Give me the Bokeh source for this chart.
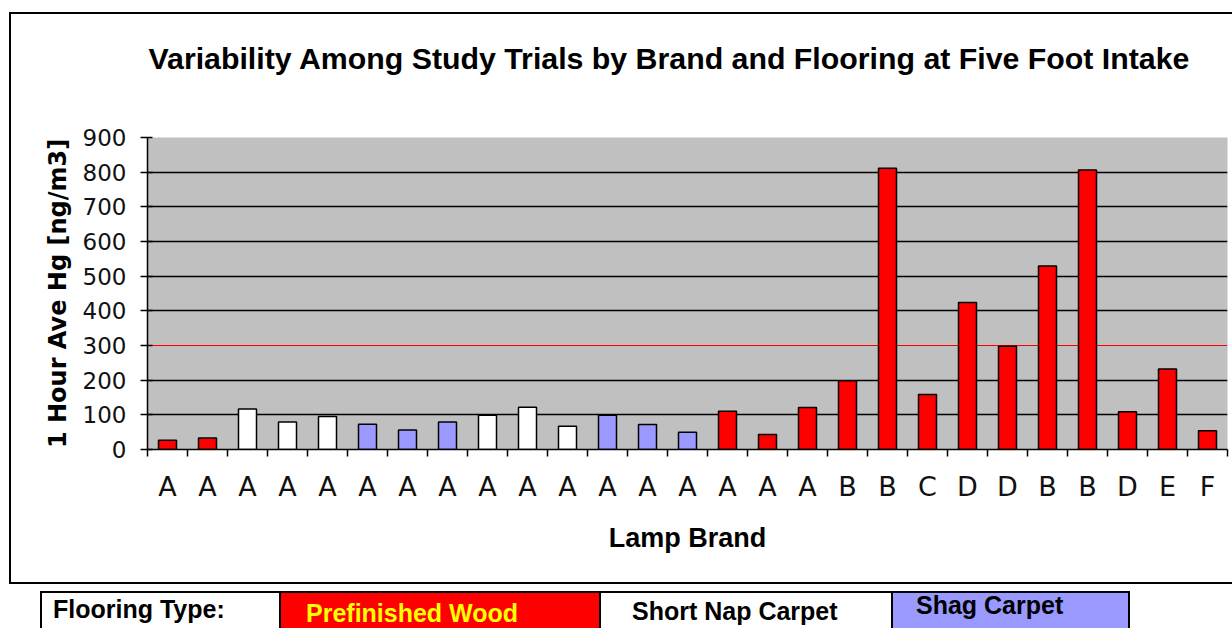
from bokeh.plotting import figure
from bokeh.layouts import column
from bokeh.models import ColumnDataSource, Range1d, FixedTicker, Span, Div
from bokeh.embed import file_html
from bokeh.resources import INLINE

# ---------------- data ----------------
brands = ["A"] * 17 + ["B", "B", "C", "D", "D", "B", "B", "D", "E", "F"]
flooring = (["Prefinished Wood"] * 2
            + ["Short Nap Carpet"] * 3
            + ["Shag Carpet"] * 3
            + ["Short Nap Carpet"] * 3
            + ["Shag Carpet"] * 3
            + ["Prefinished Wood"] * 13)
values = [27, 33, 117, 79, 95, 73, 56, 79, 99, 122, 67, 99, 72, 50,
          110, 43, 121, 198, 811, 159, 424, 298, 529, 806, 109, 232, 54]
y_ticks = [0, 100, 200, 300, 400, 500, 600, 700, 800, 900]
reference_level = 300
floor_types = ["Prefinished Wood", "Short Nap Carpet", "Shag Carpet"]
floor_colors = {"Prefinished Wood": "#FF0000", "Short Nap Carpet": "#FFFFFF", "Shag Carpet": "#9999FF"}
legend_title = "Flooring Type:"
title_text = "Variability Among Study Trials by Brand and Flooring at Five Foot Intake"
y_label = "1 Hour Ave Hg [ng/m3]"
x_label = "Lamp Brand"

# ---------------- main chart ----------------
n = len(values)
xs = [i + 0.5 for i in range(n)]
src = ColumnDataSource(dict(x=xs, top=values, color=[floor_colors[f] for f in flooring], brand=brands))

p = figure(width=1232, height=591, output_backend="svg", toolbar_location=None,
           x_range=Range1d(0, n), y_range=Range1d(0, 900),
           min_border_left=147, min_border_top=137, min_border_right=5, min_border_bottom=142)
p.background_fill_color = "#C0C0C0"
p.border_fill_color = "white"
p.border_fill_alpha = 0.0
p.outline_line_color = None
# outer chart frame (drawn behind the transparent canvas border area)
p.styles = {
    "background-color": "white",
    "background-image": "linear-gradient(#000,#000), linear-gradient(#000,#000), linear-gradient(#000,#000)",
    "background-size": "1232px 2px, 2px 572px, 1232px 2px",
    "background-position": "10px 12px, 9px 12px, 10px 582px",
    "background-repeat": "no-repeat",
}

# title (an empty second line lifts it well above the plot area)
p.title.text = title_text + "\n "
p.title.align = "left"
p.title.offset = 1
p.title.standoff = 60
p.title.text_font = "Liberation Sans"
p.title.text_font_style = "bold"
p.title.text_font_size = "30.3px"
p.title.text_color = "black"

p.xgrid.visible = False
p.ygrid.ticker = FixedTicker(ticks=[t for t in y_ticks if t != reference_level])
p.ygrid.grid_line_color = "black"
p.ygrid.grid_line_width = 1.6

p.add_layout(Span(location=reference_level, dimension="width", line_color="red",
                  line_width=1.2, level="underlay"))

p.vbar(x="x", top="top", bottom=0, width=0.45, fill_color="color",
       line_color="black", line_width=1.5, source=src)

# x axis
xa = p.xaxis[0]
xa.ticker = FixedTicker(ticks=xs, minor_ticks=list(range(n + 1)))
xa.major_label_overrides = {x: b for x, b in zip(xs, brands)}
xa.major_tick_out = 0
xa.major_tick_in = 0
xa.minor_tick_out = 7
xa.minor_tick_in = 0
xa.minor_tick_line_color = "black"
xa.minor_tick_line_width = 1.5
xa.axis_line_color = "black"
xa.axis_line_width = 1.5
xa.major_label_text_font = "DejaVu Sans"
xa.major_label_text_font_size = "27px"
xa.major_label_text_color = "#111111"
xa.major_label_standoff = 14
xa.axis_label = x_label
xa.axis_label_text_font = "Liberation Sans"
xa.axis_label_text_font_style = "bold"
xa.axis_label_text_font_size = "27px"
xa.axis_label_text_color = "black"
xa.axis_label_standoff = 18

# y axis
ya = p.yaxis[0]
ya.ticker = FixedTicker(ticks=y_ticks)
ya.major_tick_out = 7
ya.major_tick_in = 5
ya.major_tick_line_color = "black"
ya.major_tick_line_width = 1.5
ya.minor_tick_line_color = None
ya.axis_line_color = "black"
ya.axis_line_width = 1.5
ya.major_label_text_font = "DejaVu Sans"
ya.major_label_text_font_size = "23px"
ya.major_label_text_color = "#111111"
ya.major_label_standoff = 14
ya.axis_label = y_label
ya.axis_label_text_font = "DejaVu Sans"
ya.axis_label_text_font_style = "bold"
ya.axis_label_text_font_size = "24px"
ya.axis_label_text_color = "black"
ya.axis_label_standoff = 8

# ---------------- legend table (HTML) ----------------
cell_edges = [40, 279, 599, 891, 1128]
cell_texts = [legend_title] + floor_types
cell_fills = ["#FFFFFF"] + [floor_colors[f] for f in floor_types]
text_colors = ["#000000", "#FFFF00", "#000000", "#000000"]
text_left = [53, 306, 632, 916]
text_top = [6, 10, 8, 2]

parts = []
for i in range(4):
    right_border = "border-right:2px solid #000;" if i == 3 else ""
    parts.append(
        f'<div style="position:absolute;left:{cell_edges[i]}px;top:0px;'
        f'width:{cell_edges[i + 1] - cell_edges[i] + (2 if i == 3 else 0)}px;height:37px;'
        f'box-sizing:border-box;background:{cell_fills[i]};border-left:2px solid #000;'
        f'border-top:2px solid #000;{right_border}"></div>')
for i in range(4):
    parts.append(
        f'<span style="position:absolute;left:{text_left[i]}px;top:{text_top[i]}px;'
        f'line-height:25px;white-space:nowrap;color:{text_colors[i]};">{cell_texts[i]}</span>')
html = ('<div style="position:relative;width:1232px;height:37px;overflow:hidden;'
        'font-family:\'Liberation Sans\',Arial,sans-serif;font-weight:bold;font-size:25px;'
        'background:#FFFFFF;">' + "".join(parts) + '</div>')
legend_div = Div(text=html, width=1232, height=37, margin=0)

layout = column(p, legend_div, spacing=0)
open("out.html", "w").write(file_html(layout, INLINE))
